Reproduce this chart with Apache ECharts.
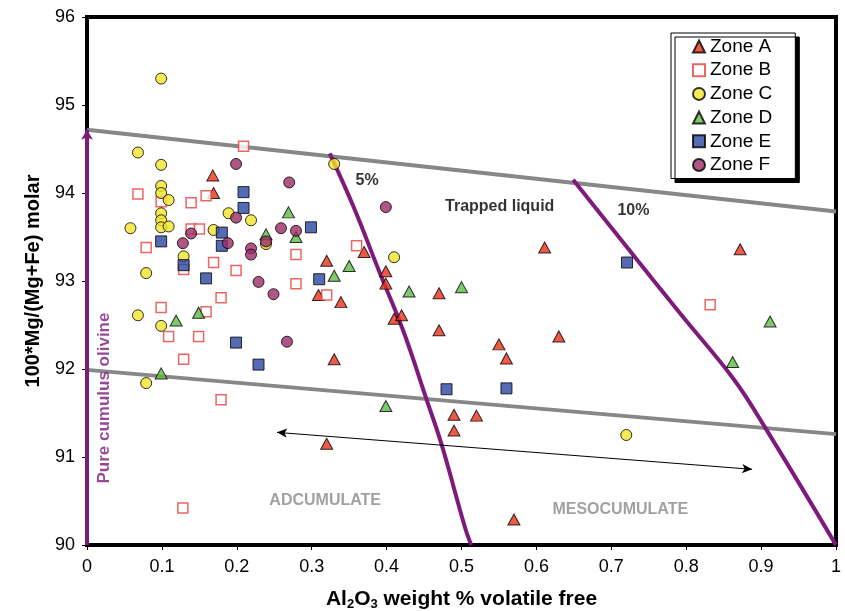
<!DOCTYPE html>
<html>
<head>
<meta charset="utf-8">
<script src="https://cdn.jsdelivr.net/npm/echarts@6/dist/echarts.min.js"></script>
<style>
html,body{margin:0;padding:0;background:#fff;}
#chart{width:845px;height:611px;}
</style>
</head>
<body>
<div id="chart"></div>
<script>
// ---- Data ----
const zoneNames = ['Zone A', 'Zone B', 'Zone C', 'Zone D', 'Zone E', 'Zone F'];

const zoneA = [
  [0.168, 94.20], [0.169, 94.00], [0.320, 93.23], [0.370, 93.33], [0.399, 93.11],
  [0.399, 92.97], [0.309, 92.84], [0.339, 92.76], [0.470, 92.86], [0.410, 92.57],
  [0.420, 92.61], [0.470, 92.44], [0.550, 92.28], [0.560, 92.12], [0.630, 92.37],
  [0.330, 92.11], [0.490, 91.48], [0.520, 91.47], [0.490, 91.30], [0.320, 91.15],
  [0.570, 90.29], [0.611, 93.38], [0.872, 93.36]
];
const zoneB = [
  [0.209, 94.53], [0.068, 93.99], [0.099, 93.90], [0.139, 93.89], [0.159, 93.97],
  [0.139, 93.59], [0.150, 93.59], [0.079, 93.38], [0.169, 93.21], [0.199, 93.12],
  [0.129, 93.13], [0.179, 92.81], [0.099, 92.70], [0.159, 92.65], [0.109, 92.37],
  [0.149, 92.37], [0.129, 92.11], [0.179, 91.65], [0.279, 93.30], [0.279, 92.97],
  [0.320, 92.84], [0.360, 93.40], [0.832, 92.73], [0.128, 90.42]
];
const zoneC = [
  [0.099, 95.30], [0.068, 94.46], [0.099, 94.32], [0.099, 94.08], [0.099, 94.00],
  [0.109, 93.92], [0.099, 93.77], [0.099, 93.69], [0.099, 93.61], [0.109, 93.62],
  [0.058, 93.60], [0.189, 93.77], [0.219, 93.69], [0.169, 93.58], [0.129, 93.28],
  [0.079, 93.09], [0.068, 92.61], [0.099, 92.49], [0.079, 91.84], [0.330, 94.33],
  [0.410, 93.27], [0.720, 91.25], [0.239, 93.42]
];
const zoneD = [
  [0.239, 93.53], [0.269, 93.78], [0.279, 93.50], [0.350, 93.17], [0.330, 93.06],
  [0.430, 92.88], [0.500, 92.93], [0.119, 92.55], [0.149, 92.64], [0.099, 91.95],
  [0.399, 91.58], [0.912, 92.54], [0.862, 92.08]
];
const zoneE = [
  [0.209, 94.01], [0.209, 93.83], [0.099, 93.45], [0.180, 93.55], [0.180, 93.40],
  [0.129, 93.18], [0.159, 93.03], [0.199, 92.30], [0.229, 92.05], [0.299, 93.61],
  [0.310, 93.02], [0.480, 91.77], [0.560, 91.78], [0.721, 93.21]
];
const zoneF = [
  [0.199, 94.33], [0.270, 94.12], [0.399, 93.84], [0.199, 93.72], [0.139, 93.54],
  [0.128, 93.43], [0.188, 93.43], [0.219, 93.37], [0.219, 93.30], [0.259, 93.60],
  [0.279, 93.57], [0.239, 93.45], [0.229, 92.99], [0.249, 92.85], [0.267, 92.31]
];

// boundary lines
const upperBoundary = [[0, 94.72], [1, 93.79]];
const lowerBoundary = [[0, 91.99], [1, 91.26]];
const curve5 = [[0.324, 94.45], [0.356, 93.84], [0.391, 93.09], [0.422, 92.44], [0.4535, 91.65], [0.4735, 91.14], [0.505, 90.19], [0.513, 90.0]];
const curve10 = [[0.649, 94.15], [0.7205, 93.39], [0.792, 92.63], [0.863, 91.89], [0.905, 91.34], [1.0, 90.0]];
const pureOlivine = [[0, 90.0], [0, 94.72]];
const doubleArrow = [[0.2537, 91.28], [0.888, 90.86]];

// annotations
const annotBold = [['5%', 0.374, 94.14], ['Trapped liquid', 0.551, 93.84], ['10%', 0.7295, 93.80]];
const annotGray = [['ADCUMULATE', 0.318, 90.50], ['MESOCUMULATE', 0.712, 90.40]];
const annotVertical = [['Pure cumulus olivine', 0.0227, 91.67]];

// axis ticks
const xMin = 0, xMax = 1, xStep = 0.1;
const yMin = 90, yMax = 96, yStep = 1;

// ---- Chart ----
const FONT = '"Liberation Sans", Arial, sans-serif';
const chart = echarts.init(document.getElementById('chart'), null, {renderer: 'canvas'});

function lineSeries(data, color, name, smooth) {
  return {
    name: name, type: 'line', data: data, symbol: 'none', silent: true, smooth: smooth || false,
    lineStyle: {color: color, width: 4}, z: 1, animation: false
  };
}
function annotSeries(arr, labelStyle) {
  return {
    type: 'scatter', silent: true, symbolSize: 0, z: 5, animation: false,
    data: arr.map(a => ({name: a[0], value: [a[1], a[2]]})),
    label: Object.assign({show: true, position: 'inside', formatter: p => p.name, fontFamily: FONT}, labelStyle)
  };
}

const scatterStyles = [
  {symbol: 'triangle', symbolSize: [12, 11], itemStyle: {color: '#e8311a', borderColor: '#000', borderWidth: 1}},
  {symbol: 'rect', symbolSize: 10, itemStyle: {color: '#fff', borderColor: '#e8403a', borderWidth: 1.5}},
  {symbol: 'circle', symbolSize: 11, itemStyle: {color: '#f2e52b', borderColor: '#000', borderWidth: 1}},
  {symbol: 'triangle', symbolSize: [12, 11], itemStyle: {color: '#5dbb46', borderColor: '#000', borderWidth: 1}},
  {symbol: 'rect', symbolSize: 11, itemStyle: {color: '#2b46a1', borderColor: '#000', borderWidth: 1}},
  {symbol: 'circle', symbolSize: 11, itemStyle: {color: '#9c2c66', borderColor: '#000', borderWidth: 1}}
];
const zoneData = [zoneA, zoneB, zoneC, zoneD, zoneE, zoneF];

const scatterSeries = zoneData.map((d, i) => Object.assign({
  name: zoneNames[i], type: 'scatter', data: d, z: 3, animation: false
}, scatterStyles[i]));

const option = {
  backgroundColor: '#fff',
  animation: false,
  grid: {
    left: 87, right: 9, top: 17, bottom: 66,
    containLabel: false, outerBoundsMode: 'none',
    show: true, borderColor: '#000', borderWidth: 4, backgroundColor: '#fff'
  },
  legend: {
    data: zoneNames,
    orient: 'vertical',
    left: 671, top: 33,
    padding: [4, 23, 4, 21],
    itemGap: 4.7, itemWidth: 12, itemHeight: 12,
    backgroundColor: '#fff', borderColor: '#000', borderWidth: 1,
    shadowColor: '#000', shadowBlur: 0, shadowOffsetX: 4, shadowOffsetY: 4,
    textStyle: {fontFamily: FONT, fontSize: 19, color: '#000'}
  },
  xAxis: {
    type: 'value', min: xMin, max: xMax, interval: xStep,
    name: '{a|Al}{s|2}{a|O}{s|3}{a| weight % volatile free}',
    nameLocation: 'middle', nameGap: 43,
    nameTextStyle: {
      rich: {
        a: {fontFamily: FONT, fontSize: 21, fontWeight: 'bold', color: '#000'},
        s: {fontFamily: FONT, fontSize: 13, fontWeight: 'bold', color: '#000', padding: [10, 0, 0, 0]}
      }
    },
    axisLine: {show: false},
    axisTick: {show: true, length: 5, lineStyle: {color: '#000', width: 1}},
    splitLine: {show: false},
    axisLabel: {
      fontFamily: FONT, fontSize: 18, color: '#000', margin: 13,
      formatter: v => String(+v.toFixed(1))
    }
  },
  yAxis: {
    type: 'value', min: yMin, max: yMax, interval: yStep,
    name: '100*Mg/(Mg+Fe) molar',
    nameLocation: 'middle', nameGap: 44, nameRotate: 90,
    nameTextStyle: {fontFamily: FONT, fontSize: 20, fontWeight: 'bold', color: '#000'},
    axisLine: {show: false},
    axisTick: {show: true, length: 5, lineStyle: {color: '#000', width: 1}},
    splitLine: {show: false},
    axisLabel: {fontFamily: FONT, fontSize: 18, color: '#000', margin: 12}
  },
  series: [
    lineSeries(upperBoundary, '#878787', 'upper'),
    lineSeries(lowerBoundary, '#878787', 'lower'),
    lineSeries(curve5, '#7e1a7c', '5%', 0.4),
    lineSeries(curve10, '#7e1a7c', '10%', 0.4),
    {
      type: 'line', data: [], silent: true, z: 2,
      markLine: {
        silent: true, animation: false, label: {show: false},
        data: [
          [{coord: pureOlivine[0], symbol: 'none', lineStyle: {color: '#7e1a7c', width: 4, type: 'solid'}},
           {coord: pureOlivine[1], symbol: 'arrow', symbolSize: [9, 10]}],
          [{coord: doubleArrow[0], symbol: 'arrow', symbolSize: [7, 10], lineStyle: {color: '#000', width: 1, type: 'solid'}},
           {coord: doubleArrow[1], symbol: 'arrow', symbolSize: [7, 10]}]
        ]
      }
    },
    ...scatterSeries,
    annotSeries(annotBold, {fontSize: 16, fontWeight: 'bold', color: '#000'}),
    annotSeries(annotGray, {fontSize: 16, fontWeight: 'bold', color: '#8a8a8a'}),
    annotSeries(annotVertical, {fontSize: 17, fontWeight: 'bold', color: '#7e1a7c', rotate: 90})
  ]
};
chart.setOption(option);
</script>
</body>
</html>
